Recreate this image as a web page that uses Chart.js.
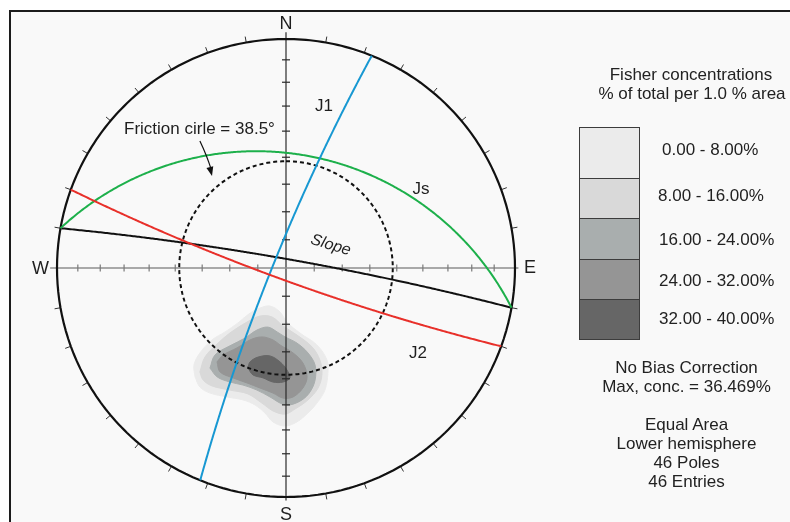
<!DOCTYPE html>
<html>
<head>
<meta charset="utf-8">
<script src="https://cdn.jsdelivr.net/npm/chart.js@4.4.1/dist/chart.umd.min.js"></script>
<style>
  html, body { margin: 0; padding: 0; background: #ffffff; }
  #wrap { position: relative; width: 790px; height: 522px; overflow: hidden;
          font-family: "Liberation Sans", Arial, sans-serif; color: #222; }
  #frame { position: absolute; left: 9px; top: 10px; width: 820px; height: 540px;
           border-left: 2px solid #1c1c1c; border-top: 2px solid #1c1c1c; background: #f9f9f9; }
  #net { position: absolute; left: 0; top: 0; }
  .t { position: absolute; font-size: 17px; line-height: 17px; white-space: nowrap; }
  .c { width: 240px; text-align: center; }
  .sw { position: absolute; left: 579px; width: 61px; box-sizing: border-box;
        border: 1px solid #3c3c3c; }
</style>
</head>
<body>
<div id="wrap">
  <div id="frame"></div>
  <canvas id="net" width="790" height="522"></canvas>
  <div id="key"></div>
</div>
<script>
// ---------------- data ----------------
// Planes: dip / dip direction (degrees)
const planeNames   = ['Slope', 'Js', 'J1', 'J2'];
const planeDips    = [85.5, 37, 83.5, 84];
const planeDipDirs = [10, 10, 292, 200];

// Friction cone half-angle (degrees)
const frictionAngle = 38.5;

// Net graduations (degrees)
const gridStep = 10;

// Fisher concentration classes
const concLevels = ['0.00 - 8.00%', '8.00 - 16.00%', '16.00 - 24.00%', '24.00 - 32.00%', '32.00 - 40.00%'];

// Contour boundaries of each class, [east, north] in net-radius units
const contour0to8 = [
  [-0.397,-0.476],[-0.402,-0.424],[-0.376,-0.371],[-0.323,-0.314],[-0.266,-0.279],[-0.210,-0.240],
  [-0.157,-0.197],[-0.114,-0.175],[-0.070,-0.166],[-0.026,-0.192],[0.004,-0.236],[0.061,-0.284],
  [0.135,-0.336],[0.179,-0.402],[0.183,-0.459],[0.170,-0.533],[0.135,-0.590],[0.096,-0.633],
  [0.048,-0.672],[-0.004,-0.690],[-0.057,-0.672],[-0.092,-0.633],[-0.135,-0.598],[-0.188,-0.576],
  [-0.258,-0.563],[-0.332,-0.546],[-0.376,-0.520]
];
const contour8to16 = [
  [-0.376,-0.454],[-0.354,-0.389],[-0.301,-0.332],[-0.245,-0.284],[-0.170,-0.236],[-0.114,-0.210],
  [-0.061,-0.214],[-0.013,-0.253],[0.048,-0.293],[0.114,-0.345],[0.148,-0.402],[0.157,-0.463],
  [0.140,-0.524],[0.096,-0.576],[0.039,-0.616],[-0.004,-0.638],[-0.057,-0.624],[-0.105,-0.590],
  [-0.166,-0.550],[-0.245,-0.533],[-0.323,-0.515],[-0.362,-0.489]
];
const contour16to24 = [
  [-0.332,-0.437],[-0.310,-0.380],[-0.245,-0.340],[-0.179,-0.306],[-0.127,-0.271],[-0.079,-0.258],
  [-0.039,-0.279],[-0.004,-0.301],[0.048,-0.328],[0.096,-0.371],[0.127,-0.424],[0.127,-0.489],
  [0.105,-0.541],[0.070,-0.576],[0.017,-0.598],[-0.017,-0.594],[-0.070,-0.563],[-0.127,-0.533],
  [-0.188,-0.511],[-0.245,-0.498],[-0.300,-0.476]
];
const contour24to32 = [
  [-0.301,-0.410],[-0.275,-0.380],[-0.214,-0.349],[-0.157,-0.314],[-0.105,-0.301],[-0.057,-0.314],
  [-0.026,-0.336],[0.031,-0.371],[0.074,-0.415],[0.092,-0.476],[0.074,-0.524],[0.031,-0.563],
  [-0.013,-0.568],[-0.057,-0.546],[-0.114,-0.524],[-0.170,-0.502],[-0.231,-0.480],[-0.288,-0.454]
];
const contour32to40 = [
  [-0.166,-0.437],[-0.157,-0.410],[-0.122,-0.389],[-0.070,-0.384],[-0.026,-0.410],[0.004,-0.445],
  [0.017,-0.480],[-0.013,-0.498],[-0.057,-0.498],[-0.100,-0.480],[-0.144,-0.467]
];

const keyTitle = ['Fisher concentrations', '% of total per 1.0 % area'];
const keyInfo  = ['No Bias Correction', 'Max, conc. = 36.469%', 'Equal Area', 'Lower hemisphere', '46 Poles', '46 Entries'];

// ---------------- styles ----------------
const planeColors = ['#111111', '#1db04b', '#1898d2', '#e8302a'];
const levelColors = ['#ebebeb', '#d9d9d9', '#a9aeae', '#959595', '#666666'];
const FONT = '"Liberation Sans", Arial, sans-serif';
// a hair of tension keeps Chart.js on the regular path renderer (the fast
// renderer collapses near-vertical runs into pixel columns)
const SMOOTH = 0.0001;

// ---------------- projection helpers ----------------
const RAD = Math.PI / 180;
// theta: angle from the vertical (lower hemisphere), degrees -> radius in net units
const equalArea  = theta => Math.SQRT2 * Math.sin(theta * RAD / 2);
const equalAngle = theta => Math.tan(theta * RAD / 2);

function greatCircle(dip, dipDir, proj) {
  const s = (dipDir - 90) * RAD, dd = dipDir * RAD, dp = dip * RAD;
  const pts = [];
  for (let a = 0; a <= 180; a += 1) {
    const ca = Math.cos(a * RAD), sa = Math.sin(a * RAD);
    const n = ca * Math.cos(s) + sa * Math.cos(dp) * Math.cos(dd);
    const e = ca * Math.sin(s) + sa * Math.cos(dp) * Math.sin(dd);
    const d = sa * Math.sin(dp);
    const theta = Math.acos(Math.max(-1, Math.min(1, d))) / RAD;
    const tr = Math.atan2(e, n);
    const r = proj(theta);
    pts.push({ x: r * Math.sin(tr), y: r * Math.cos(tr) });
  }
  return pts;
}

function smallCircle(r) {
  const pts = [];
  for (let az = 0; az <= 360; az += 2) pts.push({ x: r * Math.sin(az * RAD), y: r * Math.cos(az * RAD) });
  return pts;
}

const toPts = arr => arr.concat([arr[0]]).map(p => ({ x: p[0], y: p[1] }));

// ---------------- datasets ----------------
const datasets = [];

// density contours (lowest layer)
[contour0to8, contour8to16, contour16to24, contour24to32, contour32to40].forEach((c, i) => {
  datasets.push({
    data: toPts(c), showLine: true, fill: 'shape', tension: 0.35,
    backgroundColor: levelColors[i], borderColor: levelColors[i], borderWidth: 1,
    pointRadius: 0, order: 60 - i, clip: false
  });
});

// axes
datasets.push({ data: [{ x: -1.03, y: 0 }, { x: 1.015, y: 0 }], showLine: true, borderColor: '#8e8e8e',
  borderWidth: 1.4, pointRadius: 0, order: 40, clip: false, tension: SMOOTH });
datasets.push({ data: [{ x: 0, y: 1.03 }, { x: 0, y: -1.015 }], showLine: true, borderColor: '#2a2a2a',
  borderWidth: 1.2, pointRadius: 0, order: 40, clip: false, tension: SMOOTH });

// axis graduations every gridStep degrees (equal-area spacing)
const hTicks = [], vTicks = [];
for (let a = gridStep; a < 90; a += gridStep) {
  const r = equalArea(a);
  hTicks.push({ x: r, y: 0 }, { x: -r, y: 0 });
  vTicks.push({ x: 0, y: r }, { x: 0, y: -r });
}
datasets.push({ data: hTicks, showLine: false, pointStyle: 'line', rotation: 90, pointRadius: 3.5,
  pointBorderColor: '#7a7a7a', pointBorderWidth: 1.2, order: 39, clip: false });
datasets.push({ data: vTicks, showLine: false, pointStyle: 'line', rotation: 0, pointRadius: 4,
  pointBorderColor: '#2a2a2a', pointBorderWidth: 1.2, order: 39, clip: false });

// rim graduations
const rimPts = [], rimRot = [];
for (let az = gridStep; az < 360; az += gridStep) {
  if (az % 90 === 0) continue;
  rimPts.push({ x: 1.013 * Math.sin(az * RAD), y: 1.013 * Math.cos(az * RAD) });
  rimRot.push(az - 90);
}
datasets.push({ data: rimPts, showLine: false, pointStyle: 'line', rotation: rimRot, pointRadius: 3,
  pointBorderColor: '#333333', pointBorderWidth: 1, order: 38, clip: false });

// friction cone
datasets.push({ data: smallCircle(equalArea(frictionAngle)), showLine: true, borderColor: '#111111',
  borderWidth: 2, borderDash: [4, 3], pointRadius: 0, order: 30, clip: false });

// primitive
datasets.push({ data: smallCircle(1), showLine: true, borderColor: '#111111', borderWidth: 2.2,
  pointRadius: 0, order: 20, clip: false, tension: SMOOTH });

// planes (traced on the equal-angle net)
planeNames.forEach((name, i) => {
  datasets.push({ label: name, data: greatCircle(planeDips[i], planeDipDirs[i], equalAngle), showLine: true,
    borderColor: planeColors[i], borderWidth: 2, pointRadius: 0, order: 10 - i, clip: false, tension: SMOOTH });
});

// ---------------- labels drawn on the net ----------------
const netLabels = {
  id: 'netLabels',
  afterDatasetsDraw(chart) {
    const { ctx, scales: { x, y } } = chart;
    const P = (u, v) => [x.getPixelForValue(u), y.getPixelForValue(v)];
    const text = (str, u, v, size, opts = {}) => {
      const [px, py] = P(u, v);
      ctx.save();
      ctx.translate(px, py);
      if (opts.rot) ctx.rotate(opts.rot * RAD);
      ctx.font = (opts.italic ? 'italic ' : '') + size + 'px ' + FONT;
      ctx.textAlign = 'center';
      ctx.textBaseline = 'alphabetic';
      ctx.fillStyle = '#1e1e1e';
      ctx.fillText(str, 0, size * 0.36);
      ctx.restore();
    };
    // compass letters
    text('N', 0, 1.07, 18);
    text('S', 0, -1.07, 18);
    text('W', -1.072, 0, 18);
    text('E', 1.066, 0.005, 18);
    // plane names
    text('J1', 0.166, 0.712, 17);
    text('Js', 0.590, 0.352, 17);
    text('J2', 0.576, -0.365, 17);
    text('Slope', 0.197, 0.105, 16, { italic: true, rot: 17 });
    // friction cone note with arrow
    text('Friction cirle = ' + frictionAngle + '°', -0.378, 0.611, 17);
    const [x0, y0] = P(-0.376, 0.555);
    const [xc, yc] = P(-0.345, 0.49);
    const [x1, y1] = P(-0.323, 0.402);
    ctx.save();
    ctx.strokeStyle = '#111'; ctx.fillStyle = '#111'; ctx.lineWidth = 1.2;
    ctx.beginPath(); ctx.moveTo(x0, y0); ctx.quadraticCurveTo(xc, yc, x1 - 1, y1 - 7); ctx.stroke();
    const ang = Math.atan2(y1 - yc, x1 - xc);
    ctx.beginPath();
    ctx.moveTo(x1, y1);
    ctx.lineTo(x1 - 9 * Math.cos(ang) + 3.5 * Math.sin(ang), y1 - 9 * Math.sin(ang) - 3.5 * Math.cos(ang));
    ctx.lineTo(x1 - 9 * Math.cos(ang) - 3.5 * Math.sin(ang), y1 - 9 * Math.sin(ang) + 3.5 * Math.cos(ang));
    ctx.closePath(); ctx.fill();
    ctx.restore();
  }
};

new Chart(document.getElementById('net'), {
  type: 'scatter',
  data: { datasets },
  options: {
    responsive: false,
    animation: false,
    devicePixelRatio: 1,
    layout: { padding: { left: 57, top: 39, right: 275, bottom: 25 } },
    scales: {
      x: { type: 'linear', min: -1, max: 1, display: false },
      y: { type: 'linear', min: -1, max: 1, display: false }
    },
    plugins: { legend: { display: false }, tooltip: { enabled: false } },
    elements: { point: { radius: 0 }, line: { tension: 0, capBezierPoints: false } }
  },
  plugins: [netLabels]
});

// ---------------- key ----------------
const key = document.getElementById('key');
function addText(str, left, baseline, cls) {
  const d = document.createElement('div');
  d.className = 't' + (cls ? ' ' + cls : '');
  d.textContent = str;
  d.style.left = left + 'px';
  d.style.top = (baseline - 14.4) + 'px';
  key.appendChild(d);
}
addText(keyTitle[0], 691 - 120, 80, 'c');
addText(keyTitle[1], 692 - 120, 99, 'c');

const swTops = [127, 178, 218, 259, 299];
const swHeights = [52, 41, 42, 41, 41];
const labLeft = [662, 658, 659, 659, 659];
const labBase = [155, 201, 245, 286, 324];
concLevels.forEach((lab, i) => {
  const s = document.createElement('div');
  s.className = 'sw';
  s.style.top = swTops[i] + 'px';
  s.style.height = swHeights[i] + 'px';
  s.style.background = levelColors[i];
  key.appendChild(s);
  addText(lab, labLeft[i], labBase[i]);
});

const infoBase = [373, 392, 430, 449, 468, 487];
keyInfo.forEach((line, i) => addText(line, 686.5 - 120, infoBase[i], 'c'));
</script>
</body>
</html>
